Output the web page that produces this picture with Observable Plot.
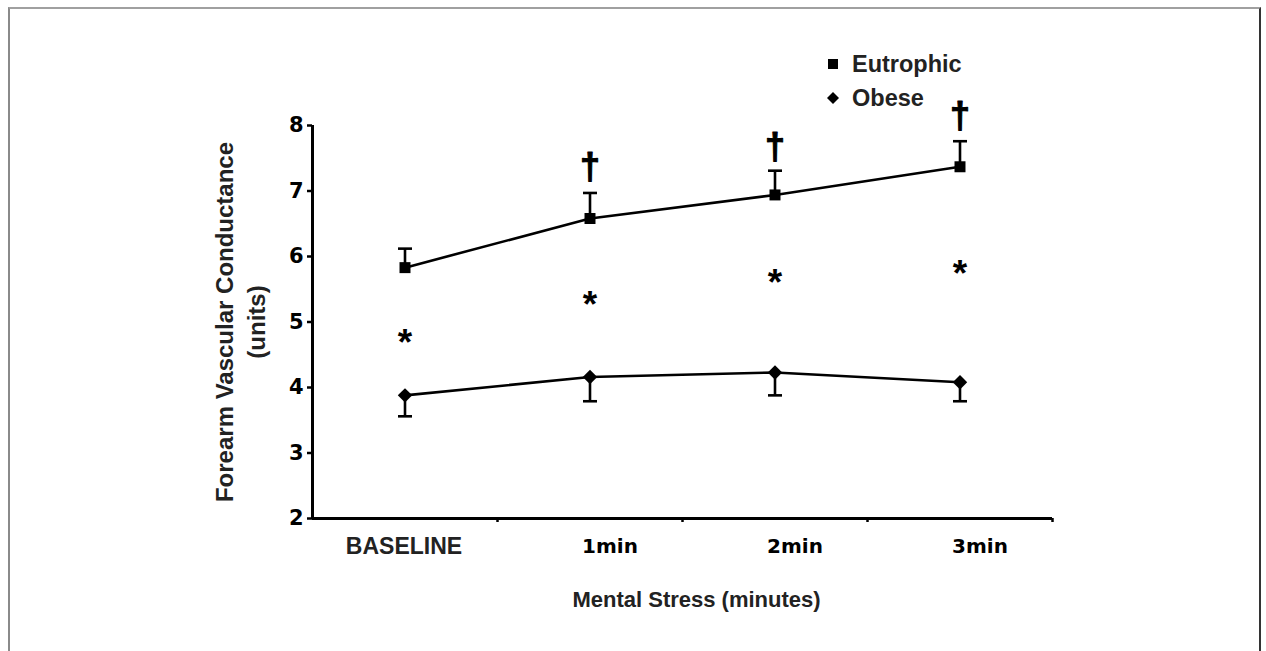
<!DOCTYPE html>
<html>
<head>
<meta charset="utf-8">
<script src="https://cdn.jsdelivr.net/npm/d3@7"></script>
<script src="https://cdn.jsdelivr.net/npm/@observablehq/plot@0.6"></script>
<style>
  html, body { margin: 0; padding: 0; background: #fff; }
  #wrap { position: relative; width: 1266px; height: 651px; overflow: hidden; }
  #frame { position: absolute; left: 8px; top: 7px; width: 1253px; height: 700px;
           border-left: 2px solid #8a8a8a; border-top: 2px solid #a0a0a0; border-right: 2px solid #333; box-sizing: border-box; }
  #chart { position: absolute; left: 0; top: 0; }
  #legend { position: absolute; left: 826px; top: 47px; font-family: "Liberation Sans", Arial, sans-serif;
            font-weight: bold; font-size: 23.5px; color: #222; }
  #legend .row { display: flex; align-items: center; height: 34px; }
  #legend svg { margin-right: 12px; }
</style>
</head>
<body>
<div id="wrap">
  <div id="frame"></div>
  <div id="chart"></div>
  <div id="legend"></div>
</div>
<script>
const categories = ["BASELINE", "1min", "2min", "3min"];
const eutrophic = [5.83, 6.58, 6.94, 7.37];
const eutrophicErr = [0.29, 0.39, 0.37, 0.39];
const obese = [3.88, 4.16, 4.23, 4.08];
const obeseErr = [0.32, 0.37, 0.35, 0.29];
const asteriskY = [4.75, 5.34, 5.67, 5.80];
const daggerY = [null, 7.37, 7.68, 8.15];
const yTicks = [2, 3, 4, 5, 6, 7, 8];
const xBoundaries = [1, 2, 3, 4];
const seriesNames = ["Eutrophic", "Obese"];

const data = categories.map((c, i) => ({
  i, c,
  e: eutrophic[i], eTop: eutrophic[i] + eutrophicErr[i],
  o: obese[i], oBot: obese[i] - obeseErr[i],
  ast: asteriskY[i], dag: daggerY[i]
}));
const xc = d => d.i + 0.5;

const cap = {
  draw(ctx, size) {
    const r = Math.sqrt(size / Math.PI);
    ctx.moveTo(-r, 0); ctx.lineTo(r, 0);
  }
};

const ink = "#000";
const txt = "#222";
const sans = "'Liberation Sans', Arial, sans-serif";
const heavy = "'DejaVu Sans', sans-serif";

const chart = Plot.plot({
  width: 1266, height: 651,
  marginLeft: 312, marginRight: 214, marginTop: 125, marginBottom: 133,
  x: {domain: [0, 4], axis: null},
  y: {domain: [2, 8], axis: null},
  style: {background: "transparent", overflow: "visible"},
  marks: [
    Plot.axisY({ticks: yTicks, tickSize: 5, tickPadding: 4, tickFormat: d => d, label: null,
      fontSize: 21, fontWeight: "bold", fontFamily: heavy, strokeWidth: 2.5, stroke: ink, fill: ink}),
    Plot.axisX({ticks: xBoundaries, tickSize: 4, tickFormat: () => "", label: null, strokeWidth: 2.5, stroke: ink}),
    Plot.ruleX([0], {y1: 2, y2: 8, stroke: ink, strokeWidth: 3}),
    Plot.ruleY([2], {x1: 0, x2: 4, stroke: ink, strokeWidth: 3}),

    // Eutrophic
    Plot.line(data, {x: xc, y: "e", stroke: ink, strokeWidth: 2.6}),
    Plot.ruleX(data, {x: xc, y1: "e", y2: "eTop", stroke: ink, strokeWidth: 2.6}),
    Plot.dot(data, {x: xc, y: "eTop", symbol: cap, r: 7, stroke: ink, strokeWidth: 2.6}),
    Plot.dot(data, {x: xc, y: "e", symbol: "square", r: 6.2, fill: ink}),

    // Obese
    Plot.line(data, {x: xc, y: "o", stroke: ink, strokeWidth: 2.6}),
    Plot.ruleX(data, {x: xc, y1: "o", y2: "oBot", stroke: ink, strokeWidth: 2.6}),
    Plot.dot(data, {x: xc, y: "oBot", symbol: cap, r: 7, stroke: ink, strokeWidth: 2.6}),
    Plot.dot(data, {x: xc, y: "o", symbol: "diamond2", r: 6.5, fill: ink}),

    // Significance markers
    Plot.text(data, {x: xc, y: "ast", text: () => "*", fontSize: 37, fontWeight: "bold", fontFamily: sans, fill: ink, dy: 5}),
    Plot.text(data.filter(d => d.dag != null), {x: xc, y: "dag", text: () => "†", fontSize: 36, fontWeight: "bold", fontFamily: sans, fill: ink, stroke: ink, strokeWidth: 1, dy: 1}),

    // Category labels
    Plot.text(data.slice(0, 1), {x: xc, y: 2, text: "c", dy: 28, dx: -1, fontSize: 23, fontWeight: "bold", fontFamily: sans, fill: txt}),
    Plot.text(data.slice(1), {x: xc, y: 2, text: "c", dy: 28, dx: 20, fontSize: 20, fontWeight: "bold", fontFamily: heavy, fill: ink}),

    // Axis titles
    Plot.text(["Forearm Vascular Conductance"], {frameAnchor: "left", textAnchor: "middle", text: d => d, rotate: -90, dx: -87,
      fontSize: 24, fontWeight: "bold", fontFamily: sans, fill: txt}),
    Plot.text(["(units)"], {frameAnchor: "left", textAnchor: "middle", text: d => d, rotate: -90, dx: -55,
      fontSize: 24, fontWeight: "bold", fontFamily: sans, fill: txt}),
    Plot.text(["Mental Stress (minutes)"], {frameAnchor: "bottom", text: d => d, dy: 88, dx: 14,
      fontSize: 22, fontWeight: "bold", fontFamily: sans, fill: txt})
  ]
});
document.getElementById("chart").appendChild(chart);

const legend = document.getElementById("legend");
const symbols = [
  '<svg width="14" height="14" viewBox="-7 -7 14 14"><rect x="-5" y="-5" width="10" height="10" fill="#000"/></svg>',
  '<svg width="14" height="14" viewBox="-7 -7 14 14"><path d="M0,-6L6,0L0,6L-6,0Z" fill="#000"/></svg>'
];
seriesNames.forEach((name, k) => {
  const row = document.createElement("div");
  row.className = "row";
  row.innerHTML = symbols[k] + "<span>" + name + "</span>";
  legend.appendChild(row);
});
</script>
</body>
</html>
